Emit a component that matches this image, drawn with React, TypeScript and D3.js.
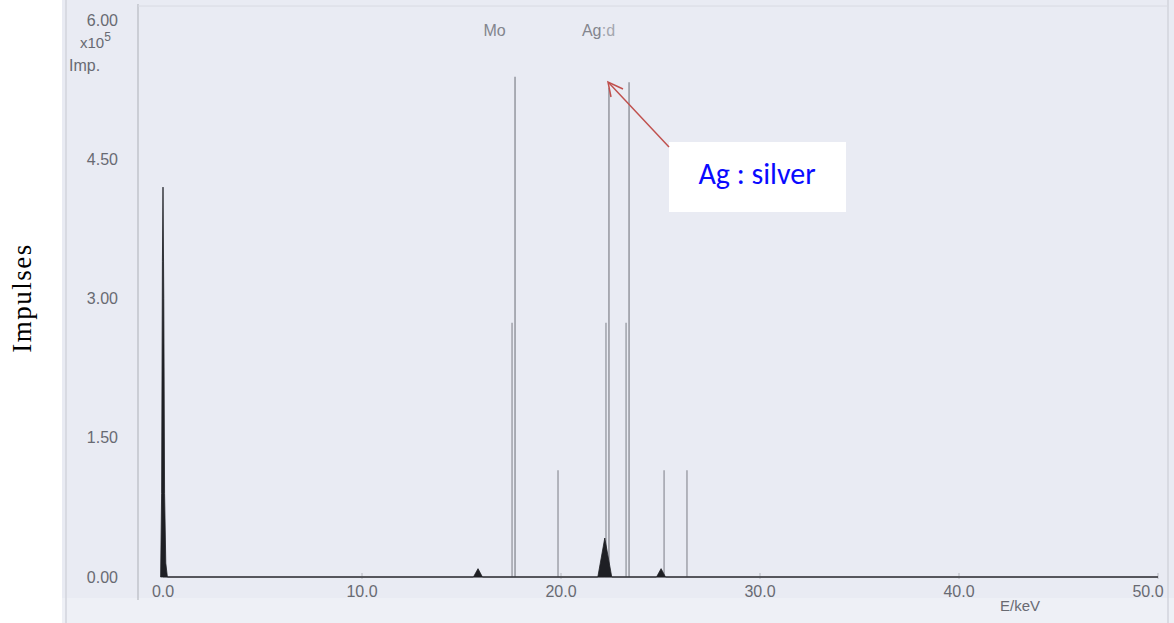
import React from "react";
import * as d3 from "d3";

// ---- data ----
const xTicks = [0, 10, 20, 30, 40, 50];
const xTickLabels = ["0.0", "10.0", "20.0", "30.0", "40.0", "50.0"];
const yTicks = [0, 1.5, 3, 4.5, 6];
const yTickLabels = ["0.00", "1.50", "3.00", "4.50", "6.00"];

// Emission lines: energy (keV), height (x10^5 impulses)
const lineEnergy = [17.69, 17.54, 22.41, 22.26, 23.42, 23.27, 19.85, 25.18, 26.33];
const lineHeight = [5.39, 2.74, 5.27, 2.74, 5.33, 2.74, 1.15, 1.15, 1.15];

// Filled spectrum outline (energy keV, impulses x10^5)
const specEnergy = [-0.12, -0.07, -0.03, 0.0, 0.04, 0.08, 0.14, 0.22, 15.6, 15.83, 16.05, 21.85, 22.2, 22.55, 24.8, 25.03, 25.25, 50];
const specValue = [0, 0.9, 3.4, 4.2, 3.0, 0.9, 0.15, 0.0, 0.0, 0.09, 0.0, 0.0, 0.42, 0.0, 0.0, 0.09, 0.0, 0.0];

const peakLabels = ["Mo", "Ag"];
const peakLabelEnergy = [16.1, 21.05];

export default function App() {
  const W = 1174;
  const H = 623;
  const x = d3.scaleLinear().domain([0, 50]).range([163, 1158]);
  const y = d3.scaleLinear().domain([0, 6]).range([577, 20]);

  const spec = specEnergy.map((e, i) => [e, specValue[i]] as [number, number]);
  const area = d3
    .area<[number, number]>()
    .x((d) => x(d[0]))
    .y0(y(0))
    .y1((d) => y(d[1]));

  const tickFont = "Arial, 'Liberation Sans', sans-serif";

  return (
    <svg
      width={W}
      height={H}
      style={{ position: "absolute", left: 0, top: 0, background: "#fff" }}
    >
      {/* scanned sheet background */}
      <rect x={62} y={0} width={W - 62} height={H} fill="#e9ebf3" />
      <rect x={62} y={598} width={W - 62} height={25} fill="#eef0f6" />
      <line x1={66} x2={66} y1={0} y2={H} stroke="#d2d4dc" strokeWidth={1.5} />
      <line x1={1168} x2={1168} y1={0} y2={H} stroke="#d2d4dc" strokeWidth={1.5} />
      {/* frame */}
      <line x1={138} x2={138} y1={4} y2={600} stroke="#b8bac2" strokeWidth={1.2} />
      <line x1={138} x2={1168} y1={6} y2={6} stroke="#d8dae2" strokeWidth={1} />

      {/* baseline */}
      <line x1={x(0)} x2={x(50)} y1={y(0)} y2={y(0)} stroke="#a9abb3" strokeWidth={1.5} />
      {xTicks.slice(1).map((t) => (
        <line key={"xt" + t} x1={x(t)} x2={x(t)} y1={y(0) - 4} y2={y(0) + 2} stroke="#b5b7bf" strokeWidth={1} />
      ))}

      {/* emission lines */}
      {lineEnergy.map((e, i) => (
        <line
          key={"l" + i}
          x1={x(e)}
          x2={x(e)}
          y1={y(0)}
          y2={y(lineHeight[i])}
          stroke={lineHeight[i] > 5 ? "#8e9098" : "#9a9ca4"}
          strokeWidth={1.4}
        />
      ))}

      {/* spectrum */}
      <path d={area(spec) || ""} fill="#1e1f24" stroke="#1e1f24" strokeWidth={0.8} />

      {/* y tick labels */}
      {yTicks.map((t, i) => (
        <text
          key={"yl" + t}
          x={118}
          y={y(t)}
          dy="0.35em"
          textAnchor="end"
          fontFamily={tickFont}
          fontSize={16}
          fill="#686a72"
        >
          {yTickLabels[i]}
        </text>
      ))}
      <text x={80} y={48} fontFamily={tickFont} fontSize={15} fill="#686a72">
        x10
        <tspan dy={-7} fontSize={12}>5</tspan>
      </text>
      <text x={69} y={71} fontFamily={tickFont} fontSize={16} fill="#686a72">
        Imp.
      </text>

      {/* x tick labels */}
      {xTicks.map((t, i) => (
        <text
          key={"xl" + t}
          x={t === 50 ? x(t) - 10 : x(t)}
          y={597}
          textAnchor="middle"
          fontFamily={tickFont}
          fontSize={16}
          fill="#686a72"
        >
          {xTickLabels[i]}
        </text>
      ))}
      <text x={1000} y={611} fontFamily={tickFont} fontSize={15} fill="#686a72">
        E/keV
      </text>

      {/* peak labels */}
      {peakLabels.map((p, i) => (
        <text
          key={"pl" + p}
          x={x(peakLabelEnergy[i])}
          y={36}
          fontFamily={tickFont}
          fontSize={16}
          fill="#83858d"
        >
          {p}
        </text>
      ))}
      <text x={x(22.05)} y={36} fontFamily={tickFont} fontSize={16} fill="#a4a6ae">
        :d
      </text>

      {/* annotation */}
      <rect x={669} y={142} width={177} height={70} fill="#ffffff" />
      <text
        x={757}
        y={173}
        dy="0.35em"
        textAnchor="middle"
        fontFamily="Carlito, Calibri, 'Open Sans', sans-serif"
        fontSize={30}
        fill="#0a0aff"
      >
        Ag : silver
      </text>
      <line x1={669} y1={147} x2={609} y2={83} stroke="#c0504d" strokeWidth={1.5} />
      <polyline
        points="611,97 608,82 623,89"
        fill="none"
        stroke="#c0504d"
        strokeWidth={1.5}
      />

      {/* y axis title */}
      <text
        transform="translate(31,298) rotate(-90)"
        textAnchor="middle"
        fontFamily="'Liberation Serif', 'Times New Roman', serif"
        fontSize={27}
        letterSpacing={1.5}
        fill="#000"
      >
        Impulses
      </text>
    </svg>
  );
}
